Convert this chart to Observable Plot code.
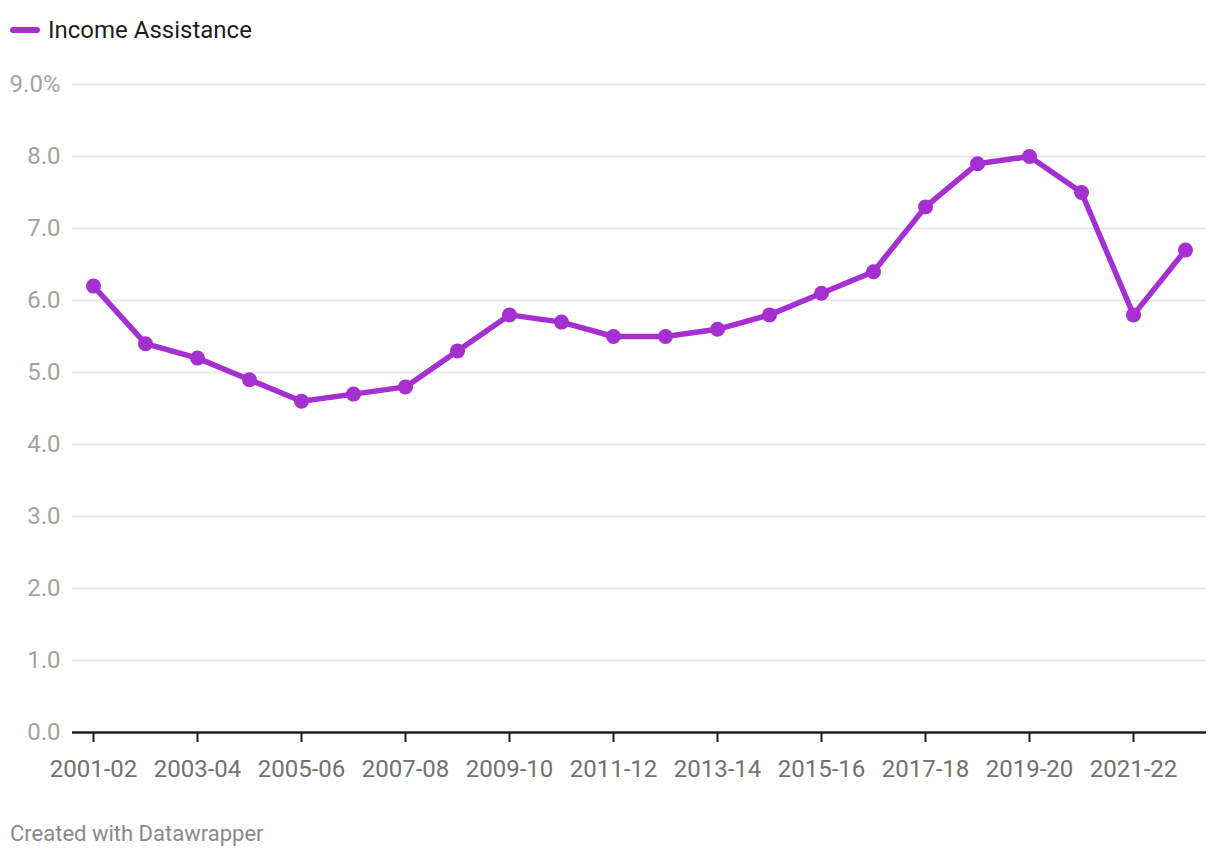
<!DOCTYPE html>
<html>
<head>
<meta charset="utf-8">
<script src="https://cdn.jsdelivr.net/npm/d3@7"></script>
<script src="https://cdn.jsdelivr.net/npm/@observablehq/plot@0.6"></script>
<style>
  html, body { margin: 0; padding: 0; background: #fff; font-family: Roboto, sans-serif; }
  #legend { height: 60px; position: relative; }
  #legend .sw { position: absolute; left: 10px; top: 27px; width: 30px; height: 6px; border-radius: 3px; background: #a52fd0; }
  #legend .lb { position: absolute; left: 48px; top: 15px; font-size: 24px; line-height: 30px; color: #1d1d1d; }
  #caption { padding-left: 10px; font-size: 22px; color: #8a8a8a; margin-top: 21px; line-height: 26px; }
  #chart [aria-label="x-axis tick label"] { fill: #717171; }
  #chart [aria-label="y-axis tick label"] { fill: #a3a3a3; }
</style>
</head>
<body>
<div id="legend"><div class="sw"></div><div class="lb">Income Assistance</div></div>
<div id="chart"></div>
<div id="caption">Created with Datawrapper</div>
<script>
const years = ["2001-02","2002-03","2003-04","2004-05","2005-06","2006-07","2007-08","2008-09","2009-10","2010-11","2011-12","2012-13","2013-14","2014-15","2015-16","2016-17","2017-18","2018-19","2019-20","2020-21","2021-22","2022-23"];
const values = [6.2,5.4,5.2,4.9,4.6,4.7,4.8,5.3,5.8,5.7,5.5,5.5,5.6,5.8,6.1,6.4,7.3,7.9,8.0,7.5,5.8,6.7];
const xTickLabels = ["2001-02","2003-04","2005-06","2007-08","2009-10","2011-12","2013-14","2015-16","2017-18","2019-20","2021-22"];
const yTicks = [0,1,2,3,4,5,6,7,8,9];
const seriesName = "Income Assistance";

const data = years.map((y, i) => ({year: y, value: values[i], series: seriesName}));
const purple = "#a52fd0";

const chart = Plot.plot({
  width: 1220,
  height: 740,
  marginTop: 24,
  marginBottom: 68,
  marginLeft: 72,
  marginRight: 14,
  style: { fontFamily: "Roboto, sans-serif", fontSize: "24px", background: "#fff", overflow: "visible" },
  x: { type: "point", domain: years, padding: 0.4 },
  y: { domain: [0, 9] },
  marks: [
    Plot.gridY(yTicks, { stroke: "#e3e3e3", strokeOpacity: 1, strokeWidth: 1.5 }),
    Plot.axisY(yTicks, { tickSize: 0, tickPadding: 12, fontSize: 24, tickFormat: d => d === 9 ? "9.0%" : d.toFixed(1), label: null }),
    Plot.ruleY([0], { stroke: "#1f1f1f", strokeWidth: 2.5 }),
    Plot.axisX(xTickLabels, { tickSize: 10, tickPadding: 17, fontSize: 24, stroke: "#1f1f1f", strokeWidth: 2, label: null }),
    Plot.line(data, { x: "year", y: "value", stroke: purple, strokeWidth: 5.5, strokeLinejoin: "round" }),
    Plot.dot(data, { x: "year", y: "value", r: 7.5, fill: purple, stroke: null })
  ]
});
document.getElementById("chart").append(chart);
</script>
</body>
</html>
